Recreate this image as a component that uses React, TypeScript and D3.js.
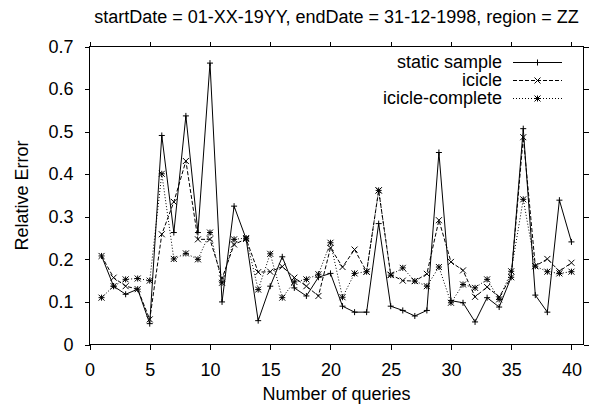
import React, { useEffect, useRef } from "react";
import * as d3 from "d3";

// values
const title = "startDate = 01-XX-19YY, endDate = 31-12-1998, region = ZZ";
const queries = [
  1, 2, 3, 4, 5, 6, 7, 8, 9, 10, 11, 12, 13, 14, 15, 16, 17, 18, 19, 20,
  21, 22, 23, 24, 25, 26, 27, 28, 29, 30, 31, 32, 33, 34, 35, 36, 37, 38, 39, 40,
];
const staticSample = [
  0.208, 0.137, 0.118, 0.13, 0.049, 0.491, 0.263, 0.537, 0.263, 0.661,
  0.1, 0.325, 0.248, 0.056, 0.137, 0.206, 0.133, 0.114, 0.158, 0.167,
  0.09, 0.076, 0.076, 0.284, 0.09, 0.08, 0.067, 0.08, 0.451, 0.103,
  0.098, 0.053, 0.11, 0.088, 0.158, 0.507, 0.116, 0.076, 0.339, 0.241,
];
const icicle = [
  0.208, 0.157, 0.137, 0.13, 0.059, 0.259, 0.335, 0.431, 0.247, 0.247,
  0.155, 0.235, 0.248, 0.17, 0.171, 0.183, 0.157, 0.137, 0.114, 0.227,
  0.182, 0.223, 0.171, 0.362, 0.164, 0.15, 0.149, 0.166, 0.292, 0.194,
  0.174, 0.112, 0.135, 0.112, 0.158, 0.487, 0.184, 0.201, 0.172, 0.192,
];
const icicleComplete = [
  0.11, 0.137, 0.153, 0.155, 0.15, 0.401, 0.201, 0.214, 0.2, 0.263,
  0.145, 0.247, 0.25, 0.129, 0.213, 0.11, 0.147, 0.153, 0.165, 0.239,
  0.111, 0.167, 0.171, 0.362, 0.163, 0.18, 0.149, 0.137, 0.182, 0.098,
  0.141, 0.133, 0.153, 0.106, 0.172, 0.341, 0.184, 0.171, 0.167, 0.171,
];
const seriesNames = ["static sample", "icicle", "icicle-complete"];
const xTicks = [0, 5, 10, 15, 20, 25, 30, 35, 40];
const yTicks = [0, 0.1, 0.2, 0.3, 0.4, 0.5, 0.6, 0.7];

const W = 596;
const H = 411;
const FONT = "'Liberation Sans', Arial, Helvetica, sans-serif";

// gnuplot-ish point types: 1 = plus, 2 = cross, 3 = star
const marker = (kind: string, cx: number, cy: number, s = 3) => {
  const plus = `M${cx - s},${cy}H${cx + s}M${cx},${cy - s}V${cy + s}`;
  const cross = `M${cx - s},${cy - s}L${cx + s},${cy + s}M${cx - s},${cy + s}L${cx + s},${cy - s}`;
  if (kind === "plus") return plus;
  if (kind === "cross") return cross;
  return plus + cross;
};

export default function App() {
  const ref = useRef<SVGSVGElement>(null);

  useEffect(() => {
    const svg = d3.select(ref.current);
    svg.selectAll("*").remove();

    const x = d3.scaleLinear().domain([0, 41]).range([89.5, 583.5]);
    const y = d3.scaleLinear().domain([0, 0.7]).range([344.5, 46.5]);

    const series = [
      { name: seriesNames[0], values: staticSample, dash: null, kind: "plus" },
      { name: seriesNames[1], values: icicle, dash: "4,2", kind: "cross" },
      { name: seriesNames[2], values: icicleComplete, dash: "1,2", kind: "star" },
    ];

    // axes with outward, mirrored ticks
    const styleAxis = (g: any) => {
      g.select(".domain").remove();
      g.selectAll("line").attr("stroke", "#000").attr("shape-rendering", "crispEdges");
      g.selectAll("text")
        .attr("fill", "#000")
        .attr("font-family", FONT)
        .attr("font-size", 18);
    };

    svg.append("g")
      .attr("transform", `translate(0,${y(0)})`)
      .call(d3.axisBottom(x).tickValues(xTicks).tickSize(5).tickPadding(14).tickFormat(d3.format("d")))
      .call(styleAxis);
    svg.append("g")
      .attr("transform", `translate(0,${y(0.7)})`)
      .call(d3.axisTop(x).tickValues(xTicks).tickSize(5).tickFormat(() => ""))
      .call(styleAxis);
    svg.append("g")
      .attr("transform", `translate(${x(0)},0)`)
      .call(d3.axisLeft(y).tickValues(yTicks).tickSize(5).tickPadding(11).tickFormat((d: any) => (d === 0 ? "0" : d3.format(".1f")(d))))
      .call(styleAxis);
    svg.append("g")
      .attr("transform", `translate(${x(41)},0)`)
      .call(d3.axisRight(y).tickValues(yTicks).tickSize(5).tickFormat(() => ""))
      .call(styleAxis);

    svg.append("rect")
      .attr("x", x(0))
      .attr("y", y(0.7))
      .attr("width", x(41) - x(0))
      .attr("height", y(0) - y(0.7))
      .attr("fill", "none")
      .attr("stroke", "#000")
      .attr("shape-rendering", "crispEdges");

    // series
    const line = d3.line<number>()
      .x((d, i) => x(queries[i]))
      .y((d) => y(d));

    series.forEach((s) => {
      svg.append("path")
        .datum(s.values)
        .attr("d", line)
        .attr("fill", "none")
        .attr("stroke", "#000")
        .attr("stroke-width", 1)
        .attr("stroke-dasharray", s.dash);
      svg.append("path")
        .attr("d", s.values.map((v, i) => marker(s.kind, x(queries[i]), y(v))).join(""))
        .attr("fill", "none")
        .attr("stroke", "#000")
        .attr("stroke-width", 1);
    });

    // legend, top right
    const legend = svg.append("g").attr("font-family", FONT).attr("font-size", 18);
    series.forEach((s, i) => {
      const ly = 62 + i * 18;
      legend.append("text")
        .attr("x", 502)
        .attr("y", ly)
        .attr("dy", "0.35em")
        .attr("text-anchor", "end")
        .attr("fill", "#000")
        .text(s.name);
      legend.append("line")
        .attr("x1", 513)
        .attr("x2", 562)
        .attr("y1", ly + 0.5)
        .attr("y2", ly + 0.5)
        .attr("stroke", "#000")
        .attr("stroke-dasharray", s.dash);
      legend.append("path")
        .attr("d", marker(s.kind, 537.5, ly + 0.5))
        .attr("fill", "none")
        .attr("stroke", "#000");
    });

    // titles
    svg.append("text")
      .attr("x", (x(0) + x(41)) / 2)
      .attr("y", 23)
      .attr("text-anchor", "middle")
      .attr("font-family", FONT)
      .attr("font-size", 18)
      .text(title);
    svg.append("text")
      .attr("x", (x(0) + x(41)) / 2)
      .attr("y", 400)
      .attr("text-anchor", "middle")
      .attr("font-family", FONT)
      .attr("font-size", 18)
      .text("Number of queries");
    svg.append("text")
      .attr("transform", `translate(28,${(y(0) + y(0.7)) / 2}) rotate(-90)`)
      .attr("text-anchor", "middle")
      .attr("font-family", FONT)
      .attr("font-size", 18)
      .text("Relative Error");
  }, []);

  return (
    <svg
      ref={ref}
      width={W}
      height={H}
      style={{ position: "absolute", left: 0, top: 0, background: "#fff" }}
    />
  );
}
